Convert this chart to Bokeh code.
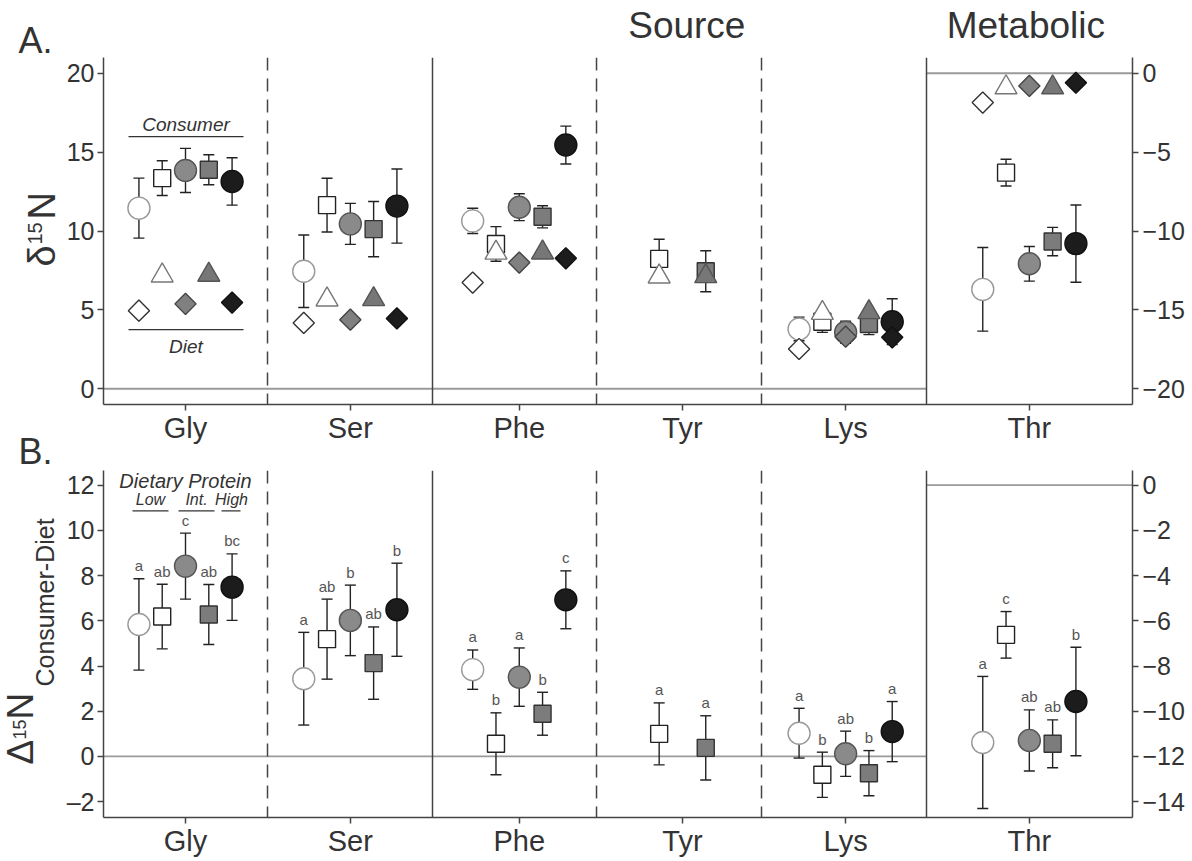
import numpy as np
from bokeh.plotting import figure
from bokeh.models import Range1d, LinearAxis, FixedTicker, Span
from bokeh.layouts import column, row
from bokeh.embed import file_html
from bokeh.resources import INLINE
from bokeh.core.properties import value

nan = float("nan")
FONT = "Liberation Sans"

# ---------------- data (Gly, Ser, Phe, Tyr, Lys, Thr) ----------------
# Thr values are read on the right-hand axis.
amino_acids = ["Gly", "Ser", "Phe", "Tyr", "Lys", "Thr"]

# Panel A: d15N, consumers (mean, sd)
a_low_circle = [11.45, 7.45, 10.64, nan, 3.79, -13.7]
a_low_circle_err = [1.9, 2.3, 0.8, nan, 0.75, 2.65]
a_low_square = [13.35, 11.64, 9.18, 8.23, 4.25, -6.3]
a_low_square_err = [1.1, 1.7, 1.1, 1.25, 0.68, 0.85]
a_int_circle = [13.84, 10.45, 11.51, nan, 3.58, -12.08]
a_int_circle_err = [1.4, 1.3, 0.85, nan, 0.7, 1.1]
a_int_square = [13.88, 10.12, 10.9, 7.45, 4.1, -10.67]
a_int_square_err = [0.95, 1.75, 0.7, 1.3, 0.67, 0.9]
a_high_circle = [13.14, 11.58, 15.45, nan, 4.25, -10.8]
a_high_circle_err = [1.5, 2.35, 1.2, nan, 1.45, 2.45]

# Panel A: d15N, diets
a_diet_low_diamond = [4.95, 4.17, 6.73, nan, 2.52, -1.86]
a_diet_low_triangle = [7.17, 5.65, 8.62, 7.11, 4.8, -0.9]
a_diet_int_diamond = [5.38, 4.38, 8.0, nan, 3.3, -0.8]
a_diet_int_triangle = [7.22, 5.67, 8.63, 7.13, 4.85, -0.9]
a_diet_high_diamond = [5.46, 4.46, 8.27, nan, 3.26, -0.6]

# Panel B: Delta15N consumer-diet (mean, sd, letters)
b_low_circle = [5.84, 3.44, 3.84, nan, 1.03, -11.38]
b_low_circle_err = [2.02, 2.05, 0.87, nan, 1.1, 2.92]
b_low_circle_let = ["a", "a", "a", "", "a", "a"]
b_low_square = [6.19, 5.19, 0.56, 1.0, -0.81, -6.62]
b_low_square_err = [1.43, 1.77, 1.37, 1.37, 1.0, 1.03]
b_low_square_let = ["ab", "ab", "b", "a", "b", "c"]
b_int_circle = [8.42, 6.02, 3.51, nan, 0.12, -11.29]
b_int_circle_err = [1.46, 1.56, 1.29, nan, 1.0, 1.35]
b_int_circle_let = ["c", "b", "a", "", "ab", "ab"]
b_int_square = [6.28, 4.13, 1.89, 0.38, -0.74, -11.44]
b_int_square_err = [1.33, 1.6, 0.95, 1.42, 1.0, 1.06]
b_int_square_let = ["ab", "ab", "b", "a", "b", "ab"]
b_high_circle = [7.49, 6.49, 6.93, nan, 1.1, -9.57]
b_high_circle_err = [1.47, 2.06, 1.28, nan, 1.33, 2.4]
b_high_circle_let = ["bc", "b", "c", "", "a", "b"]

a_left_ticks = [0, 5, 10, 15, 20]
a_right_ticks = [-20, -15, -10, -5, 0]
b_left_ticks = [-2, 0, 2, 4, 6, 8, 10, 12]
b_right_ticks = [-14, -12, -10, -8, -6, -4, -2, 0]

# ---------------- layout constants ----------------
cat_pos = [0.5, 1.505, 2.535, 3.53, 4.525, 5.645]
dashed_sep = [1.0, 3.006, 4.012]
solid_sep = [2.006, 5.018]
XMAX = 6.274
DX = 0.142
PXU = 164.0    # px per x unit
FRAME_L = 103  # page x of frame left
STRIP_W = 62
HEADER_H = 57
PAGE_H = 861
K_MID = 0.34   # distance baseline -> text middle, in em

STY = {
    "low_circle": dict(marker="circle", size=22, fill_color="white", line_color="#999999", angle=0),
    "low_square": dict(marker="square", size=17, fill_color="white", line_color="#222222", angle=0),
    "int_circle": dict(marker="circle", size=22, fill_color="#8a8a8a", line_color="#555555", angle=0),
    "int_square": dict(marker="square", size=17, fill_color="#7c7c7c", line_color="#333333", angle=0),
    "high_circle": dict(marker="circle", size=22, fill_color="#1c1c1c", line_color="#111111", angle=0),
    "d_low_diamond": dict(marker="square", size=15, fill_color="white", line_color="#333333", angle=np.pi / 4),
    "d_low_triangle": dict(marker="triangle", size=22, fill_color="white", line_color="#777777", angle=0),
    "d_int_diamond": dict(marker="square", size=15, fill_color="#808080", line_color="#444444", angle=np.pi / 4),
    "d_int_triangle": dict(marker="triangle", size=22, fill_color="#777777", line_color="#555555", angle=0),
    "d_high_diamond": dict(marker="square", size=15, fill_color="#1c1c1c", line_color="#111111", angle=np.pi / 4),
}

X_RANGE = Range1d(0, XMAX)


def xpx(px):
    return (px - FRAME_L) / PXU


def blank(w, h, x_range=None):
    f = figure(width=int(w), height=int(h), x_range=x_range if x_range is not None else Range1d(0, w),
               y_range=Range1d(0, h), output_backend="svg",
               toolbar_location=None, min_border=0, x_axis_type=None, y_axis_type=None,
               background_fill_color="white", border_fill_color="white")
    f.outline_line_color = None
    return f


def txt(p, x, y, s, size, style="normal", align="left", rotated=False, color="#333333", ux=1.0, uy=1.0):
    """Place text whose alphabetic baseline passes through (x, y); ux/uy = data units per px."""
    k = K_MID * size
    if rotated:
        x = x - k * ux
    else:
        y = y + k * uy
    p.text(x=[x], y=[y], text=[s], text_font=value(FONT), text_font_size=f"{size}px", text_font_style=style,
           text_align=align, text_baseline="middle", angle=(np.pi / 2 if rotated else 0.0), text_color=color)


def make_fig(yr, ryr, lt, rt, top, bottom, left_over=None):
    p = figure(frame_width=1029, frame_height=347, x_range=X_RANGE, y_range=Range1d(*yr),
               output_backend="svg", toolbar_location=None, min_border_left=int(FRAME_L - STRIP_W),
               min_border_right=52, min_border_top=top, min_border_bottom=bottom,
               background_fill_color="white", border_fill_color="white")
    p.outline_line_color = None
    p.grid.visible = False
    p.extra_y_ranges = {"right": Range1d(*ryr)}
    la = p.left[0]
    la.ticker = FixedTicker(ticks=lt)
    if left_over:
        la.major_label_overrides = left_over
    ra = LinearAxis(y_range_name="right", ticker=FixedTicker(ticks=rt))
    p.add_layout(ra, "right")
    xa = p.below[0]
    xa.ticker = FixedTicker(ticks=cat_pos)
    xa.major_label_overrides = {float(c): n for c, n in zip(cat_pos, amino_acids)}
    for ax in (la, ra, xa):
        ax.axis_line_color = "#444444"
        ax.axis_line_width = 1.5
        ax.major_tick_line_color = "#444444"
        ax.major_tick_line_width = 1.5
        ax.major_tick_in = 0
        ax.major_tick_out = 6
        ax.minor_tick_line_color = None
        ax.major_label_text_font = FONT
        ax.major_label_text_color = "#333333"
        ax.major_label_text_font_size = "25px"
        ax.major_label_standoff = 4
    la.major_label_standoff = 3
    xa.major_label_text_font_size = "29px"
    xa.major_label_standoff = 1
    for s in dashed_sep:
        p.add_layout(Span(location=s, dimension="height", line_color="#444444", line_width=1.5, line_dash="13 8"))
    for s in solid_sep:
        p.add_layout(Span(location=s, dimension="height", line_color="#444444", line_width=1.5))
    # zero reference lines
    p.segment(x0=[0], y0=[0], x1=[solid_sep[1]], y1=[0], line_color="#9a9a9a", line_width=1.8)
    p.segment(x0=[solid_sep[1]], y0=[0], x1=[XMAX], y1=[0], line_color="#9a9a9a", line_width=1.8,
              y_range_name="right")
    return p


def split(vals, offset):
    x = np.array(cat_pos) + offset * DX
    v = np.array(vals, dtype=float)
    return [(x[:5], v[:5], {}), (x[5:], v[5:], {"y_range_name": "right"})]


def errorbars(p, vals, errs, offset):
    e = np.array(errs, dtype=float)
    for (xs, ms, kw), es in zip(split(vals, offset), (e[:5], e[5:])):
        ok = ~np.isnan(ms)
        xs, ms, es = xs[ok], ms[ok], es[ok]
        p.segment(xs, ms - es, xs, ms + es, line_color="#222222", line_width=1.4, **kw)
        p.scatter(np.concatenate([xs, xs]), np.concatenate([ms - es, ms + es]), marker="dash", size=11,
                  line_color="#222222", line_width=1.4, **kw)


def markers(p, vals, offset, style):
    st = STY[style]
    for xs, ms, kw in split(vals, offset):
        ok = ~np.isnan(ms)
        p.scatter(xs[ok], ms[ok], marker=st["marker"], size=st["size"], angle=st["angle"],
                  fill_color=st["fill_color"], line_color=st["line_color"], line_width=1.4, **kw)


def letters(p, vals, errs, lets, offset):
    e = np.array(errs, dtype=float)
    for (xs, ms, kw), es, ls in zip(split(vals, offset), (e[:5], e[5:]), (lets[:5], lets[5:])):
        ok = ~np.isnan(ms)
        p.text(xs[ok], (ms + es)[ok], text=[l for l, k in zip(ls, ok) if k], text_font=value(FONT),
               text_font_size="15px", text_color="#555555", text_align="center",
               text_baseline="middle", y_offset=-13, **kw)


# ---------------- Panel A ----------------
pa = make_fig((-1, 21), (-21, 1), a_left_ticks, a_right_ticks, 0, 46)
ya = lambda py: (388.0 - py) / 15.75
UYA = 1 / 15.75

cons_a = [(a_low_circle, a_low_circle_err, -2, "low_circle"), (a_low_square, a_low_square_err, -1, "low_square"),
          (a_int_circle, a_int_circle_err, 0, "int_circle"), (a_int_square, a_int_square_err, 1, "int_square"),
          (a_high_circle, a_high_circle_err, 2, "high_circle")]
for v, e, o, s in cons_a:
    errorbars(pa, v, e, o)
for v, e, o, s in cons_a:
    markers(pa, v, o, s)
for v, o, s in [(a_diet_low_diamond, -2, "d_low_diamond"), (a_diet_low_triangle, -1, "d_low_triangle"),
                (a_diet_int_diamond, 0, "d_int_diamond"), (a_diet_int_triangle, 1, "d_int_triangle"),
                (a_diet_high_diamond, 2, "d_high_diamond")]:
    markers(pa, v, o, s)

# legend-like annotation in Gly
pa.segment(x0=[xpx(128), xpx(128)], y0=[ya(136.3), ya(329)], x1=[xpx(243), xpx(243)], y1=[ya(136.3), ya(329)],
           line_color="#333333", line_width=1.3)
txt(pa, xpx(185.5), ya(131), "Consumer", 19, "italic", "center", uy=UYA)
txt(pa, xpx(185.5), ya(352), "Diet", 19, "italic", "center", uy=UYA)

# ---------------- Panel B ----------------
pb = make_fig((-2.7, 12.65), (-14.7, 0.65), b_left_ticks, b_right_ticks, 20, 44, left_over={-2: "\u20132"})
yb = lambda py: (756.0 - py) / 22.6
UYB = 1 / 22.6

cons_b = [(b_low_circle, b_low_circle_err, b_low_circle_let, -2, "low_circle"),
          (b_low_square, b_low_square_err, b_low_square_let, -1, "low_square"),
          (b_int_circle, b_int_circle_err, b_int_circle_let, 0, "int_circle"),
          (b_int_square, b_int_square_err, b_int_square_let, 1, "int_square"),
          (b_high_circle, b_high_circle_err, b_high_circle_let, 2, "high_circle")]
for v, e, l, o, s in cons_b:
    errorbars(pb, v, e, o)
for v, e, l, o, s in cons_b:
    markers(pb, v, o, s)
for v, e, l, o, s in cons_b:
    letters(pb, v, e, l, o)

txt(pb, xpx(185), yb(487), "Dietary Protein", 20, "italic", "center", uy=UYB)
txt(pb, xpx(150), yb(505), "Low", 16, "italic", "center", uy=UYB)
txt(pb, xpx(196), yb(505), "Int.", 16, "italic", "center", uy=UYB)
txt(pb, xpx(231), yb(505), "High", 16, "italic", "center", uy=UYB)
pb.segment(x0=[xpx(132), xpx(178), xpx(221)], y0=[yb(510.5)] * 3, x1=[xpx(168), xpx(214), xpx(240)],
           y1=[yb(510.5)] * 3, line_color="#333333", line_width=1.3)

# ---------------- header (page y 0..57), frame aligned with the panels ----------------
header = blank(int(FRAME_L - STRIP_W) + 1029 + 52, HEADER_H, x_range=X_RANGE)
hy = lambda py: HEADER_H - py
txt(header, xpx(688), hy(38), "Source", 37, align="center")
txt(header, xpx(1028), hy(38), "Metabolic", 37, align="center")

# ---------------- left strip: panel letters and y-axis titles (page y 0..861) ----------------
strip = blank(STRIP_W, PAGE_H)
sy = lambda py: PAGE_H - py
txt(strip, 18, sy(52), "A.", 36)
txt(strip, 54, sy(266), "δ", 38, rotated=True)
txt(strip, 41, sy(244), "15", 20, rotated=True)
txt(strip, 54, sy(219), "N", 38, rotated=True)
txt(strip, 18, sy(463), "B.", 36)
txt(strip, 33, sy(764), "Δ", 37, rotated=True)
txt(strip, 25, sy(739), "15", 18, rotated=True)
txt(strip, 33, sy(719), "N", 37, rotated=True)
txt(strip, 53, sy(686), "Consumer-Diet", 25, rotated=True)

layout = row(strip, column(header, pa, pb, spacing=0), spacing=0)
open("out.html", "w").write(file_html(layout, INLINE))
